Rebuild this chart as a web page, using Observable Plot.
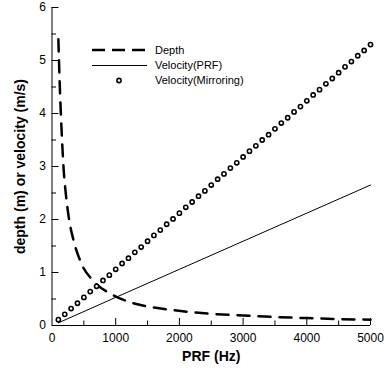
<!DOCTYPE html>
<html>
<head>
<meta charset="utf-8">
<script src="https://cdn.jsdelivr.net/npm/d3@7"></script>
<script src="https://cdn.jsdelivr.net/npm/@observablehq/plot@0.6"></script>
<style>
  html, body { margin: 0; padding: 0; background: #fff; }
  #wrap { position: relative; width: 388px; height: 368px; font-family: "Liberation Sans", Arial, sans-serif; }
  #wrap svg { display: block; }
  #legend { position: absolute; left: 0; top: 0; pointer-events: none; }
</style>
</head>
<body>
<div id="wrap"></div>
<script>
// ---- data ----
const depthPRF   = [100, 120, 150, 180, 220, 262, 340, 450, 640, 920, 1200, 1500, 1900, 2200, 2500, 3000, 3500, 4000, 4500, 5000];
const depthValue = [5.4, 4.6, 3.7, 3.0, 2.45, 2.05, 1.6, 1.2, 0.85, 0.6, 0.45, 0.36, 0.29, 0.25, 0.22, 0.19, 0.16, 0.14, 0.12, 0.11];

const velPRF   = [100, 1000, 2000, 3000, 4000, 5000];
const velValue = [0.05, 0.53, 1.06, 1.59, 2.12, 2.65];

const mirPRF = [100, 200, 300, 400, 500, 600, 700, 800, 900, 1000,
                1100, 1200, 1300, 1400, 1500, 1600, 1700, 1800, 1900, 2000,
                2100, 2200, 2300, 2400, 2500, 2600, 2700, 2800, 2900, 3000,
                3100, 3200, 3300, 3400, 3500, 3600, 3700, 3800, 3900, 4000,
                4100, 4200, 4300, 4400, 4500, 4600, 4700, 4800, 4900, 5000];
const mirValue = [0.11, 0.21, 0.32, 0.42, 0.53, 0.64, 0.74, 0.85, 0.95, 1.06,
                  1.17, 1.27, 1.38, 1.48, 1.59, 1.70, 1.80, 1.91, 2.01, 2.12,
                  2.23, 2.33, 2.44, 2.54, 2.65, 2.76, 2.86, 2.97, 3.07, 3.18,
                  3.29, 3.39, 3.50, 3.60, 3.71, 3.82, 3.92, 4.03, 4.13, 4.24,
                  4.35, 4.45, 4.56, 4.66, 4.77, 4.88, 4.98, 5.09, 5.19, 5.30];

const xMajorTicks = [0, 1000, 2000, 3000, 4000, 5000];
const xMinorTicks = [500, 1500, 2500, 3500, 4500];
const yMajorTicks = [0, 1, 2, 3, 4, 5, 6];
const yMinorTicks = [0.5, 1.5, 2.5, 3.5, 4.5, 5.5];

const xTitle = "PRF (Hz)";
const yTitle = "depth (m) or velocity (m/s)";
const legendLabels = ["Depth", "Velocity(PRF)", "Velocity(Mirroring)"];

// ---- build tables ----
const depth = depthPRF.map((x, i) => ({x, y: depthValue[i]}));
const vel   = velPRF.map((x, i) => ({x, y: velValue[i]}));
const mir   = mirPRF.map((x, i) => ({x, y: mirValue[i]}));

const FONT = "Liberation Sans, Arial, sans-serif";
const W = 388, H = 368, ML = 51.5, MR = 18, MT = 7, MB = 43;
const frameW = W - ML - MR, frameH = H - MT - MB;
const XDOM = [0, 5000], YDOM = [0, 6];
const MAJOR = 7, MINOR = 4.5;
// tick lengths expressed in data units (pixel length / pixels per unit)
const yLen = px => px * (YDOM[1] - YDOM[0]) / frameH;
const xLen = px => px * (XDOM[1] - XDOM[0]) / frameW;

const chart = Plot.plot({
  width: W,
  height: H,
  marginTop: MT,
  marginRight: MR,
  marginBottom: MB,
  marginLeft: ML,
  style: {fontFamily: FONT, fontSize: "12px", color: "#000", background: "#fff"},
  x: {domain: XDOM},
  y: {domain: YDOM},
  marks: [
    // inward ticks
    Plot.ruleX(xMajorTicks.slice(1), {x: d => d, y1: YDOM[0], y2: YDOM[0] + yLen(MAJOR), stroke: "#000", strokeWidth: 1}),
    Plot.ruleX(xMinorTicks, {x: d => d, y1: YDOM[0], y2: YDOM[0] + yLen(MINOR), stroke: "#000", strokeWidth: 1}),
    Plot.ruleY(yMajorTicks.slice(1), {y: d => d, x1: XDOM[0], x2: XDOM[0] + xLen(MAJOR), stroke: "#000", strokeWidth: 1}),
    Plot.ruleY(yMinorTicks, {y: d => d, x1: XDOM[0], x2: XDOM[0] + xLen(MINOR), stroke: "#000", strokeWidth: 1}),
    // axis lines
    Plot.ruleX([XDOM[0]], {stroke: "#000", strokeWidth: 1}),
    Plot.ruleY([YDOM[0]], {stroke: "#000", strokeWidth: 1}),
    // tick labels
    Plot.axisX(xMajorTicks, {tickSize: 0, tickPadding: 8, label: null, fill: "#000", fontSize: 12, tickFormat: d => String(d)}),
    Plot.axisY(yMajorTicks, {tickSize: 0, tickPadding: 6, label: null, fill: "#000", fontSize: 12, tickFormat: d => String(d)}),
    // axis titles
    Plot.text([xTitle], {frameAnchor: "bottom", dy: 31, text: d => d, textAnchor: "middle", lineAnchor: "middle", fontWeight: "bold", fontSize: 14, fill: "#000"}),
    Plot.text([yTitle], {frameAnchor: "left", dx: -31, rotate: -90, text: d => d, textAnchor: "middle", lineAnchor: "middle", fontWeight: "bold", fontSize: 14, fill: "#000"}),
    // data
    Plot.line(vel, {x: "x", y: "y", stroke: "#000", strokeWidth: 1}),
    Plot.line(depth, {x: "x", y: "y", stroke: "#000", strokeWidth: 2.5, strokeDasharray: "12,9", curve: "monotone-x"}),
    Plot.dot(mir, {x: "x", y: "y", r: 2.1, stroke: "#000", strokeWidth: 1.6, fill: "#fff"})
  ]
});

const wrap = document.getElementById("wrap");
wrap.appendChild(chart);

// ---- legend overlay ----
const lg = d3.select(wrap).append("svg")
  .attr("id", "legend").attr("width", W).attr("height", H);
const rowY = [50, 65.5, 80.5];
const g = lg.selectAll("g").data(legendLabels).join("g")
  .attr("transform", (d, i) => `translate(0,${rowY[i]})`);
g.each(function(d, i) {
  const s = d3.select(this);
  if (i === 0) {
    s.append("line").attr("x1", 92).attr("x2", 147).attr("y1", 0).attr("y2", 0)
      .attr("stroke", "#000").attr("stroke-width", 2.5).attr("stroke-dasharray", "13,7");
  } else if (i === 1) {
    s.append("line").attr("x1", 92).attr("x2", 147).attr("y1", 0).attr("y2", 0)
      .attr("stroke", "#000").attr("stroke-width", 1);
  } else {
    s.append("circle").attr("cx", 119).attr("cy", 0).attr("r", 2.1)
      .attr("fill", "#fff").attr("stroke", "#000").attr("stroke-width", 1.6);
  }
  s.append("text").attr("x", 155).attr("y", 0).attr("dy", "0.35em")
    .attr("font-family", FONT).attr("font-size", 11).attr("fill", "#000").text(d);
});
</script>
</body>
</html>
